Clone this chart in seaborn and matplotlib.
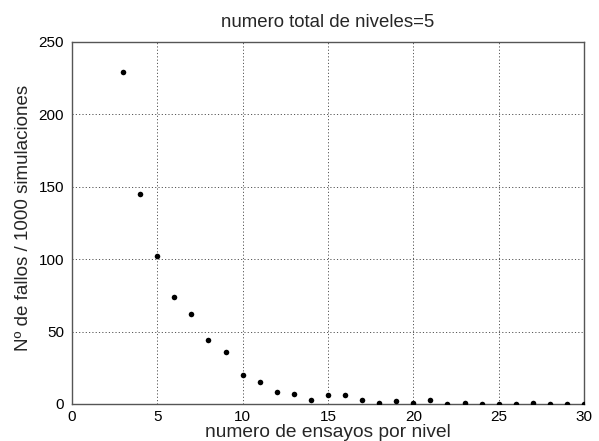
import numpy as np
import matplotlib
matplotlib.use("Agg")
import matplotlib.pyplot as plt
import pandas as pd
import seaborn as sns

ensayos = list(range(3, 31))
fallos = [229, 145, 102, 74, 62, 44, 36, 20, 15, 8, 7, 3, 6, 6, 3, 1, 2, 1, 3,
          0, 1, 0, 0, 0, 1, 0, 0, 0]

df = pd.DataFrame({"ensayos": ensayos, "fallos": fallos})

sns.set_style("white")
plt.rcParams['font.family'] = ['Liberation Sans', 'DejaVu Sans']

fig = plt.figure(figsize=(5.99, 4.41), dpi=100)
ax = fig.add_axes([0.120, 0.084, 0.855, 0.821])

sns.scatterplot(data=df, x="ensayos", y="fallos", ax=ax, color="black",
                s=16, edgecolor="black", linewidth=0, zorder=3)

ax.set_xlim(0, 30)
ax.set_ylim(0, 250)
ax.set_xticks(np.arange(0, 31, 5))
ax.set_yticks(np.arange(0, 251, 50))
ax.grid(True, color="#555555", linestyle=(0, (1.2, 2.2)), linewidth=0.7)
ax.tick_params(direction="in", length=4, labelsize=11, colors="#666666",
               labelcolor="black")
ax.tick_params(axis="x", pad=4)
ax.tick_params(axis="y", pad=5.5)
for side in ax.spines.values():
    side.set_color("#555555")
    side.set_linewidth(1.0)

ax.set_title("numero total de niveles=5", fontsize=13.4, pad=11)
ax.set_xlabel("numero de ensayos por nivel", fontsize=13.8, va="baseline")
ax.xaxis.set_label_coords(0.5, -0.091)
ax.set_ylabel("Nº de fallos / 1000 simulaciones", fontsize=13.5, va="baseline")
ax.yaxis.set_label_coords(-0.086, 0.514)

fig.savefig("out.png", dpi=100)
